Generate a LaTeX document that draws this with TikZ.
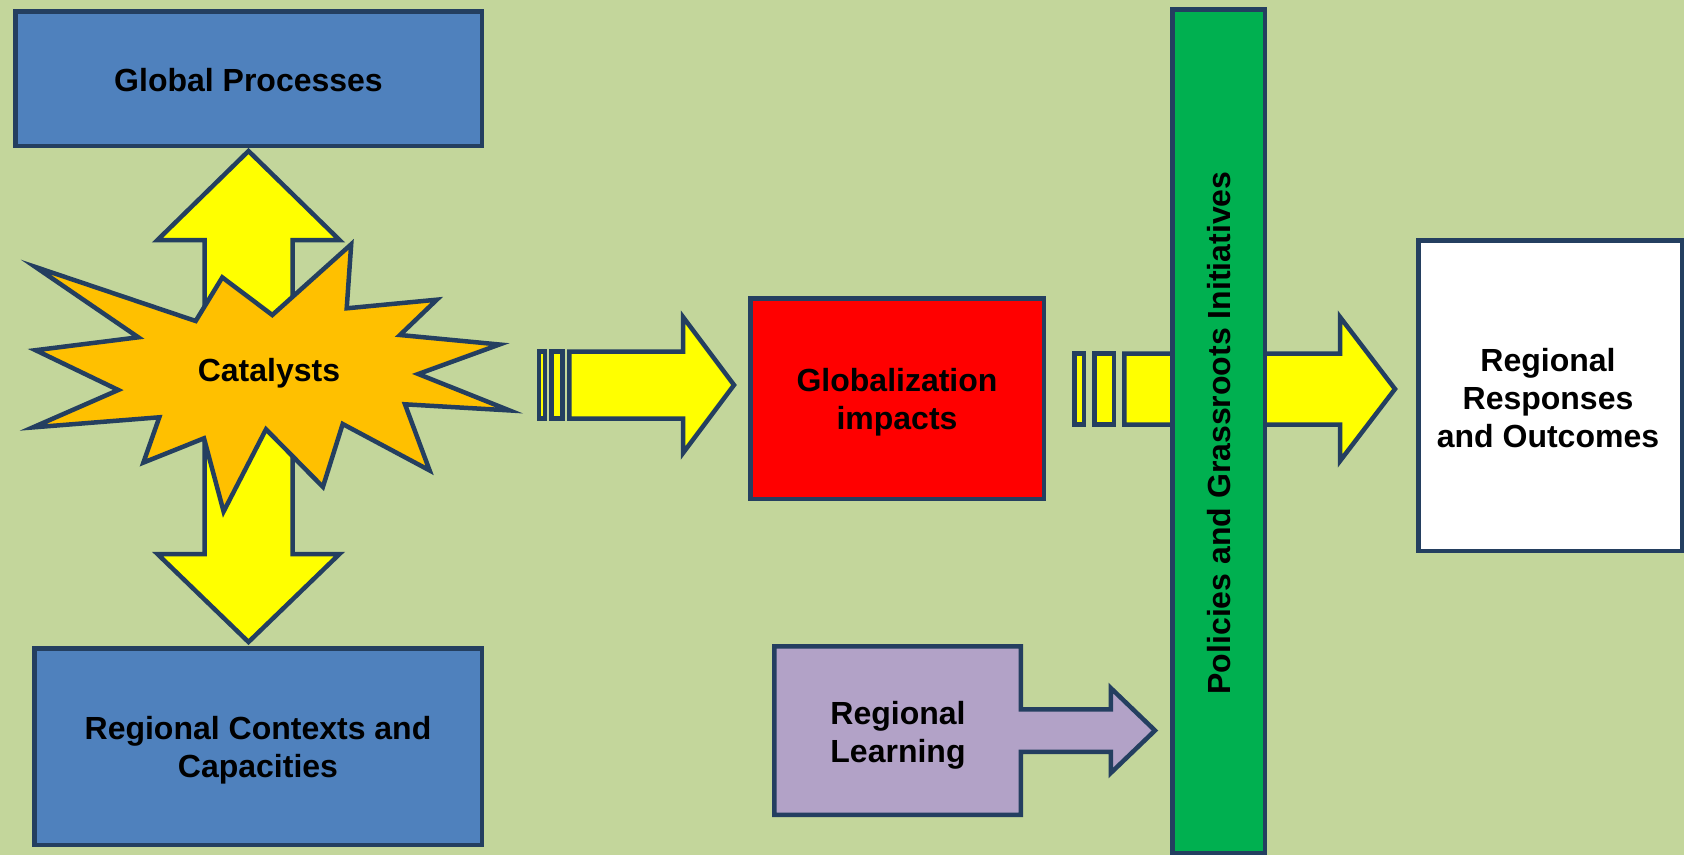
\documentclass[tikz,border=0pt]{standalone}
\usepackage{fontspec}
\setmainfont{Liberation Sans}
\definecolor{bgcol}{HTML}{C3D69B}
\definecolor{edgecol}{HTML}{243F60}
\definecolor{boxblue}{HTML}{4F81BD}
\definecolor{arryellow}{HTML}{FFFF00}
\definecolor{starcol}{HTML}{FFC000}
\definecolor{impred}{HTML}{FF0000}
\definecolor{bargreen}{HTML}{00B050}
\definecolor{learnpurple}{HTML}{B2A2C7}
\tikzset{
  outl/.style={draw=edgecol, line width=4.5pt, line join=miter},
  boxsty/.style={outl, inner sep=0pt},
  txtsty/.style={inner sep=0pt, align=center,
    font=\bfseries\fontsize{32}{38}\selectfont},
}
\begin{document}
\begin{tikzpicture}[x=1pt,y=-1pt]
\fill[bgcol] (0,0) rectangle (1684,855);
\useasboundingbox (0,0) rectangle (1684,855);

% double vertical block arrow
\filldraw[outl, fill=arryellow] (248.5,151) -- (339.5,240) -- (292.5,240) -- (292.5,554)
  -- (339.5,554) -- (248.5,642) -- (157.5,554) -- (204.5,554) -- (204.5,240)
  -- (157.5,240) -- cycle;

% starburst
\filldraw[outl, fill=starcol] (35.5,267) -- (195.7,321) -- (222.3,277.4) -- (272.3,315)
  -- (351.2,244.3) -- (346.7,308.3) -- (436.8,299.7) -- (400,335) -- (499.4,344.5)
  -- (418.3,374) -- (509.4,410.4) -- (405,404.3) -- (429.6,470.4) -- (342.7,424)
  -- (322.9,486.9) -- (266,429.3) -- (223.6,511.5) -- (204,438.3) -- (143.4,462.6)
  -- (159.3,417.3) -- (32.8,427.4) -- (118.3,390) -- (35.6,350.2) -- (138.3,337.3) -- cycle;
\node[txtsty] (cat) at (269,373) {Catalysts};

% boxes left
\node[boxsty, fill=boxblue, minimum width=466.5pt, minimum height=134.5pt] (gp)
  at (248.5,78.5) {};
\node[txtsty] (gpt) at (248.5,80) {Global Processes};
\node[boxsty, fill=boxblue, minimum width=447.5pt, minimum height=196.5pt] (rc)
  at (258,746.5) {};
\node[txtsty] (rct) at (258,750) {Regional Contexts and\\Capacities};

% striped arrow 1
\filldraw[outl, fill=arryellow] (539,351.5) rectangle (545,418.5);
\filldraw[outl, fill=arryellow] (551.3,351.5) rectangle (562.7,418.5);
\filldraw[outl, fill=arryellow] (569.3,351.5) -- (683,351.5) -- (683,317) -- (734,385)
  -- (683,453) -- (683,418.5) -- (569.3,418.5) -- cycle;

% globalization impacts
\node[boxsty, fill=impred, minimum width=293.5pt, minimum height=200.5pt] (gi)
  at (897,398.5) {};
\node[txtsty] (git) at (897,402) {Globalization\\impacts};

% striped arrow 2
\filldraw[outl, fill=arryellow] (1074.25,353.5) rectangle (1083.75,424.5);
\filldraw[outl, fill=arryellow] (1094.25,353.5) rectangle (1113.75,424.5);
\filldraw[outl, fill=arryellow] (1124.25,353.5) -- (1340,353.5) -- (1340,317) -- (1395,389)
  -- (1340,461) -- (1340,424.5) -- (1124.25,424.5) -- cycle;

% green bar
\node[boxsty, fill=bargreen, rotate=90, minimum width=843.5pt, minimum height=92.5pt] (pg)
  at (1218.5,431) {};
\node[txtsty, rotate=90] (pgt) at (1219,433) {Policies and Grassroots Initiatives};

% outcomes box
\node[boxsty, fill=white, minimum width=263.5pt, minimum height=310.5pt] (rr)
  at (1550,395.5) {};
\node[txtsty] (rrt) at (1548,398.5) {Regional\\Responses\\and Outcomes};

% regional learning callout arrow
\filldraw[outl, fill=learnpurple] (774.25,646.25) -- (1020.75,646.25) -- (1020.75,709.25)
  -- (1110.75,709.25) -- (1110.75,688) -- (1155,730.5) -- (1110.75,773) -- (1110.75,751.75)
  -- (1020.75,751.75) -- (1020.75,814.75) -- (774.25,814.75) -- cycle;
\node[txtsty] (rl) at (898,735.5) {Regional\\Learning};
\end{tikzpicture}
\end{document}
